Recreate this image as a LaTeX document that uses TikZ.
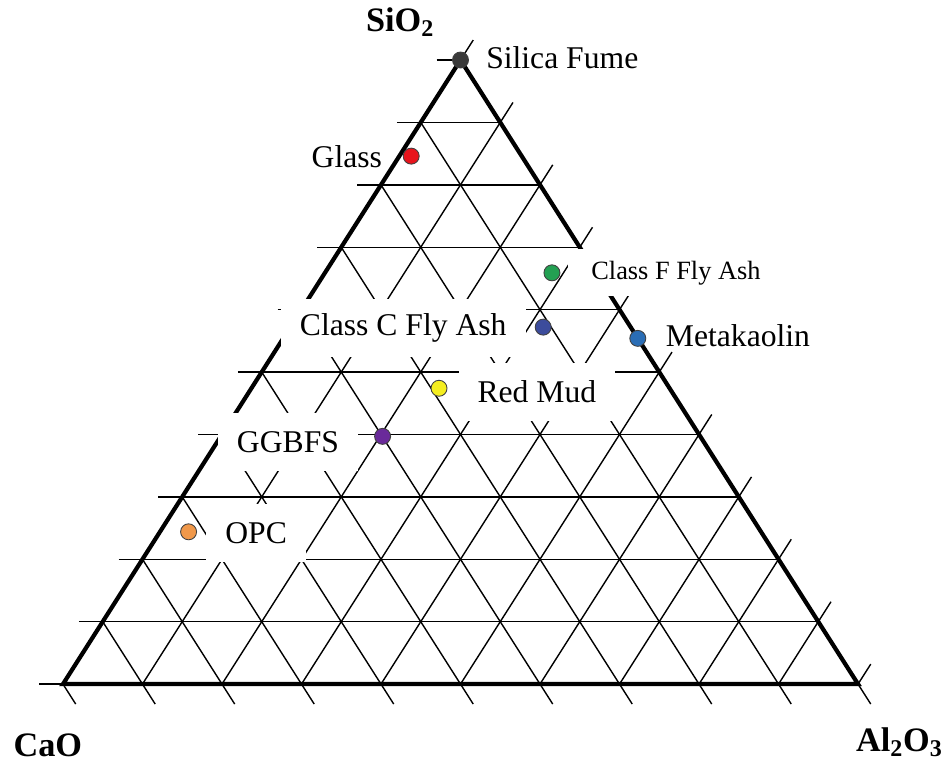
\documentclass[tikz,border=0pt]{standalone}
\usepackage{fontspec}
\setmainfont{Liberation Serif}
\usepackage{tikz}

\definecolor{sfgray}{HTML}{3A3A3A}
\definecolor{glassred}{HTML}{E8141C}
\definecolor{cfgreen}{HTML}{23A052}
\definecolor{ccblue}{HTML}{3C4C9C}
\definecolor{mkblue}{HTML}{2A6DB5}
\definecolor{rmyellow}{HTML}{F5EE20}
\definecolor{ggpurple}{HTML}{6A2A9A}
\definecolor{opcorange}{HTML}{F0984A}

\tikzset{
  grid/.style={line width=0.8pt},
  edge/.style={line width=2.4pt, line join=miter},
  mat/.style={font=\fontsize{18}{20}\selectfont, inner sep=0pt},
  matbox/.style={mat, fill=white, inner xsep=0.38cm, minimum height=1.16cm},
  axis/.style={font=\bfseries\fontsize{19.5}{22}\selectfont, inner sep=0pt},
  dot/.style={circle, draw=black!75, line width=0.5pt, minimum size=0.32cm, inner sep=0pt}
}

\begin{document}
\begin{tikzpicture}[x=1.59cm, y=1.248cm]
   \useasboundingbox (-0.792,-1.330) rectangle (11.119,10.962);
   % grid, every line runs a bit past one side of the triangle
   \foreach \k in {0,...,10}{
      \draw[grid] ({\k/2-0.3},\k) -- ({10-\k/2},\k);
      \draw[grid] (\k,0) -- ({5+\k/2+0.16},{10-\k+0.32});
      \draw[grid] ({\k/2},\k) -- ({\k+0.16},-0.32);
   }
   \coordinate (pca) at (0,0);
   \coordinate (pal) at (10,0);
   \coordinate (psi) at (5,10);
   \draw[edge] (pca) -- (pal) -- (psi) -- cycle;
   % labels that blank out the grid behind them
   \node[matbox] (ccfa) at (4.28,5.71) {Class C Fly Ash};
   \node[matbox] (rmud) at (5.96,4.68) {Red Mud};
   \node[matbox] (ggbfs) at (2.83,3.88) {GGBFS};
   \node[matbox] (opc) at (2.43,2.42) {OPC};
   \node[matbox, font=\fontsize{15}{17}\selectfont, inner xsep=0.46cm, minimum height=0.94cm] (cffa) at (7.71,6.59) {Class F Fly Ash};
   \node[mat] (sf) at (6.28,10.03) {Silica Fume};
   \node[mat] (glass) at (3.57,8.45) {Glass};
   \node[mat] (meta) at (8.49,5.58) {Metakaolin};
   % materials
   \node[dot, fill=sfgray] (dsf) at (psi) {};
   \node[dot, fill=glassred] (dglass) at (4.38,8.46) {};
   \node[dot, fill=cfgreen] (dcffa) at (6.15,6.59) {};
   \node[dot, fill=ccblue] (dccfa) at (6.04,5.72) {};
   \node[dot, fill=mkblue] (dmeta) at (7.23,5.54) {};
   \node[dot, fill=rmyellow] (drmud) at (4.73,4.74) {};
   \node[dot, fill=ggpurple] (dggbfs) at (4.02,3.97) {};
   \node[dot, fill=opcorange] (dopc) at (1.58,2.44) {};
   % corners
   \node[axis] (sio2) at (4.24,10.61) {SiO\textsubscript{2}};
   \node[axis] (cao) at (-0.19,-0.98) {CaO};
   \node[axis] (al2o3) at (10.52,-0.93) {Al\textsubscript{2}O\textsubscript{3}};
\end{tikzpicture}
\end{document}
